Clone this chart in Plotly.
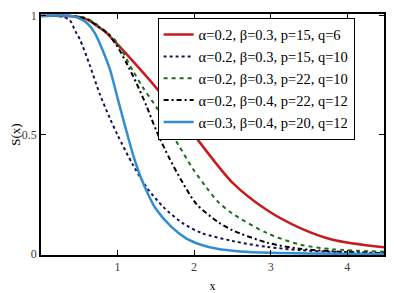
import plotly.graph_objects as go

# ---- data ----
red_x = [0, 0.3, 0.5, 0.6, 0.7, 0.85, 1.0, 1.2, 1.5, 1.9, 2.07, 2.5, 2.95, 3.38, 3.81, 4.48]
red_y = [1, 1, 0.995, 0.985, 0.965, 0.93, 0.88, 0.81, 0.70, 0.54, 0.47, 0.30, 0.185, 0.11, 0.06, 0.028]

dot_x = [0, 0.2, 0.3, 0.38, 0.45, 0.51, 0.64, 0.77, 0.9, 1.0, 1.2, 1.38, 1.6, 1.85, 2.1, 2.5, 2.95, 3.4, 3.9, 4.48]
dot_y = [1, 1, 0.995, 0.98, 0.935, 0.90, 0.79, 0.67, 0.57, 0.50, 0.375, 0.28, 0.197, 0.13, 0.088, 0.055, 0.03, 0.016, 0.008, 0.004]

grn_x = [0, 0.4, 0.5, 0.6, 0.7, 0.8, 0.9, 1.0, 1.2, 1.33, 1.51, 1.68, 1.81, 1.98, 2.16, 2.31, 2.5, 2.95, 3.38, 3.81, 4.48]
grn_y = [1, 1, 0.998, 0.99, 0.97, 0.945, 0.92, 0.885, 0.77, 0.70, 0.615, 0.52, 0.45, 0.36, 0.28, 0.22, 0.17, 0.088, 0.04, 0.02, 0.01]

blk_x = [0, 0.4, 0.55, 0.64, 0.75, 0.86, 1.0, 1.12, 1.25, 1.38, 1.51, 1.68, 1.85, 2.03, 2.31, 2.5, 2.95, 3.38, 3.9, 4.48]
blk_y = [1, 1, 0.99, 0.98, 0.955, 0.93, 0.87, 0.80, 0.715, 0.62, 0.515, 0.40, 0.30, 0.21, 0.135, 0.10, 0.048, 0.022, 0.01, 0.004]

blu_x = [0, 0.4, 0.5, 0.6, 0.7, 0.8, 0.9, 1.0, 1.1, 1.2, 1.3, 1.4, 1.5, 1.7, 1.9, 2.1, 2.3, 2.6, 3.0, 3.5, 4.48]
blu_y = [1, 1, 0.99, 0.97, 0.93, 0.86, 0.775, 0.655, 0.535, 0.42, 0.325, 0.25, 0.19, 0.115, 0.065, 0.038, 0.022, 0.011, 0.005, 0.002, 0]

names = [
    "α=0.2, β=0.3, p=15, q=6",
    "α=0.2, β=0.3, p=15, q=10",
    "α=0.2, β=0.3, p=22, q=10",
    "α=0.2, β=0.4, p=22, q=12",
    "α=0.3, β=0.4, p=20, q=12",
]

x_ticks = [1, 2, 3, 4]
y_ticks = [0, 0.5, 1]
y_tick_labels = ["0", "0.5", "1"]

series = [
    (red_x, red_y, dict(color="rgb(196,28,30)", width=2.5, dash="solid")),
    (dot_x, dot_y, dict(color="rgb(20,20,90)", width=2, dash="dot")),
    (grn_x, grn_y, dict(color="rgb(30,110,30)", width=2, dash="4px,4px")),
    (blk_x, blk_y, dict(color="rgb(0,0,0)", width=2, dash="5px,3px,2px,3px")),
    (blu_x, blu_y, dict(color="rgb(50,140,210)", width=2.5, dash="solid")),
]

fig = go.Figure()
for (xs, ys, ln), nm in zip(series, names):
    ln = dict(ln, shape="spline", smoothing=0.8)
    fig.add_trace(go.Scatter(x=xs, y=ys, mode="lines", name=nm, line=ln))

font = "'Liberation Serif', 'Times New Roman', serif"
axis_common = dict(
    showgrid=False, zeroline=False, showline=True, linecolor="black", linewidth=1.5,
    mirror="ticks", ticks="inside", ticklen=5, tickcolor="black", tickwidth=1,
    tickfont=dict(family=font, size=12, color="rgb(60,60,60)"),
    automargin=False,
)
# the page body has an 8px default margin, so the figure is sized to fit beside it
fig.update_layout(
    width=386, height=285,
    margin=dict(l=33, r=10, t=6, b=38),
    paper_bgcolor="white", plot_bgcolor="white",
    font=dict(family=font, size=12, color="black"),
    showlegend=True,
    legend=dict(
        x=0.34, y=0.985, xanchor="left", yanchor="top",
        bgcolor="white", bordercolor="black", borderwidth=1,
        font=dict(family=font, size=14.5, color="black"),
        tracegroupgap=0, entrywidth=162, entrywidthmode="pixels",
    ),
    xaxis=dict(axis_common, range=[0, 4.48], tickvals=x_ticks,
               title=dict(text="x", font=dict(family=font, size=12))),
    yaxis=dict(axis_common, range=[-0.004, 1.008], tickvals=y_ticks, ticktext=y_tick_labels,
               title=dict(text="S(x)", font=dict(family=font, size=13))),
)
fig.write_html("out.html")
